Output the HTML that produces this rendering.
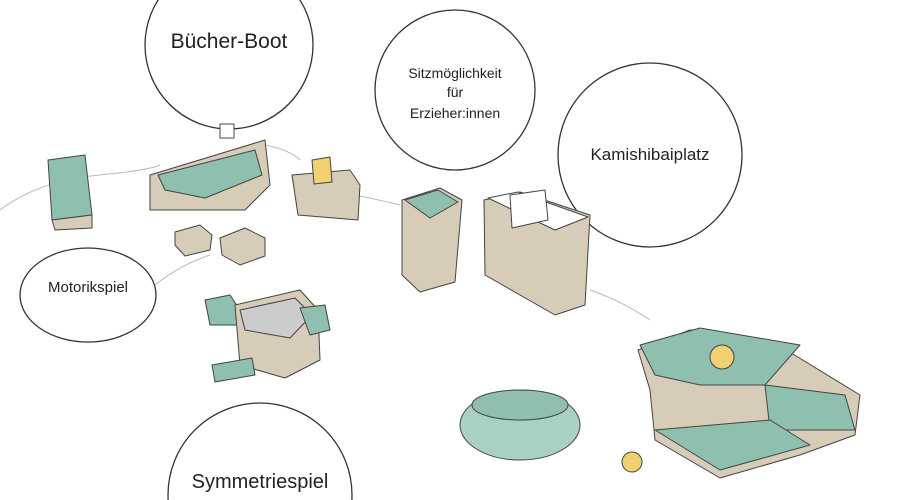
<!DOCTYPE html>
<html><head><meta charset="utf-8"><style>
html,body{margin:0;padding:0;background:#fff;width:900px;height:500px;overflow:hidden}
svg{display:block}
text{font-family:"Liberation Sans",sans-serif;fill:#222}
</style></head><body>
<svg width="900" height="500" viewBox="0 0 900 500">
<defs><clipPath id="c"><rect x="0" y="0" width="900" height="500"/></clipPath></defs>
<g clip-path="url(#c)">
<g fill="none" stroke="#bbb" stroke-width="1">
<path d="M0 210 Q40 180 100 175 Q150 170 160 165"/>
<path d="M265 145 Q290 150 300 160"/>
<path d="M355 195 Q380 200 400 205"/>
<path d="M590 290 Q620 300 650 320"/>
<path d="M155 285 Q180 265 210 255"/>
</g>
<g stroke="#333" stroke-width="1.3" fill="#fff">
<circle cx="229" cy="45" r="84"/>
<circle cx="455" cy="90" r="80"/>
<circle cx="650" cy="155" r="92"/>
<ellipse cx="88" cy="295" rx="68" ry="47"/>
<circle cx="260" cy="495" r="92"/>
</g>
<text x="229" y="48" font-size="21" text-anchor="middle">Bücher-Boot</text>
<text x="455" y="78" font-size="14" text-anchor="middle">Sitzmöglichkeit</text>
<text x="455" y="97" font-size="14" text-anchor="middle">für</text>
<text x="455" y="118" font-size="14" text-anchor="middle">Erzieher:innen</text>
<text x="650" y="160" font-size="17" text-anchor="middle">Kamishibaiplatz</text>
<text x="88" y="292" font-size="15" text-anchor="middle">Motorikspiel</text>
<text x="260" y="488" font-size="20" text-anchor="middle">Symmetriespiel</text>
<g stroke="#444" stroke-width="1" stroke-linejoin="round">
<polygon points="48,160 85,155 92,215 52,220" fill="#8fbfae"/>
<polygon points="52,220 92,215 92,228 55,230" fill="#d6ccb8"/>
<polygon points="150,175 265,140 270,185 245,210 150,210" fill="#d6ccb8"/>
<polygon points="158,175 255,150 262,175 205,198 165,190" fill="#8fbfae"/>
<rect x="220" y="124" width="14" height="14" fill="#fff"/>
<polygon points="292,175 350,170 360,185 358,220 298,215" fill="#d6ccb8"/>
<polygon points="312,160 330,157 332,182 314,184" fill="#f0d070"/>
<polygon points="175,232 200,225 212,235 210,250 185,256 175,245" fill="#d6ccb8"/>
<polygon points="220,238 245,228 265,238 265,256 240,265 222,255" fill="#d6ccb8"/>
<polygon points="205,300 230,295 240,310 240,325 210,325" fill="#8fbfae"/>
<polygon points="235,305 300,290 318,310 320,360 285,378 240,365" fill="#d6ccb8"/>
<polygon points="240,310 295,298 312,315 290,338 245,330" fill="#ccc"/>
<polygon points="300,308 325,305 330,330 310,335" fill="#8fbfae"/>
<polygon points="212,365 252,358 255,375 215,382" fill="#8fbfae"/>
<polygon points="402,200 440,188 462,200 455,282 420,292 402,275" fill="#d6ccb8"/>
<polygon points="405,200 438,190 458,202 430,218" fill="#8fbfae"/>
<polygon points="484,200 520,192 590,215 585,305 555,315 485,275" fill="#d6ccb8"/>
<polygon points="488,198 518,192 588,217 555,230" fill="#fff"/>
<polygon points="510,195 545,190 548,220 512,228" fill="#fff"/>
<ellipse cx="520" cy="425" rx="60" ry="35" fill="#a8d0c4"/>
<ellipse cx="520" cy="405" rx="48" ry="15" fill="#8fbfae"/>
<polygon points="638,350 690,330 770,340 860,395 855,435 800,455 720,478 655,440 650,390" fill="#d6ccb8"/>
<polygon points="640,345 700,328 800,345 765,385 700,385 655,375" fill="#8fbfae"/>
<polygon points="765,385 845,395 855,430 770,430" fill="#8fbfae"/>
<polygon points="655,430 770,420 810,445 720,470" fill="#8fbfae"/>
<circle cx="722" cy="357" r="12" fill="#f0d070"/>
<circle cx="632" cy="462" r="10" fill="#f0d070"/>
</g>
</g>
</svg>
</body></html>
